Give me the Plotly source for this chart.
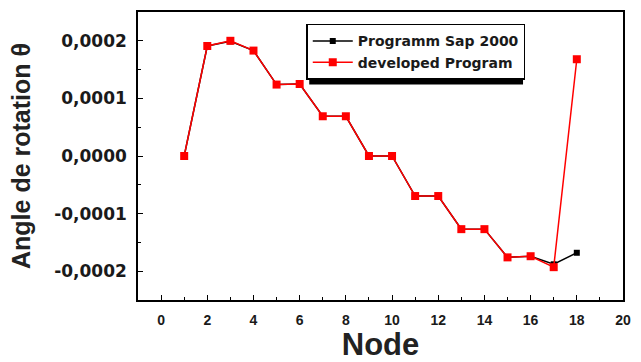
import plotly.graph_objects as go

nodes = list(range(1, 19))
sap2000 = [0.0, 0.000191, 0.000199, 0.000183, 0.000124, 0.000125, 0.000069, 0.000069,
           0.0, 0.0, -0.0000695, -0.0000695, -0.000127, -0.000127, -0.000176, -0.000174,
           -0.000188, -0.000168]
developed = [0.0, 0.000191, 0.0002, 0.000183, 0.000124, 0.000125, 0.000069, 0.000069,
             0.0, 0.0, -0.0000695, -0.0000695, -0.000127, -0.000127, -0.000176, -0.000174,
             -0.000193, 0.000168]

x_ticks = list(range(0, 21, 2))
y_ticks = [-0.0002, -0.0001, 0.0, 0.0001, 0.0002]
y_tick_text = ["-0,0002", "-0,0001", "0,0000", "0,0001", "0,0002"]

fig = go.Figure()
fig.add_trace(go.Scatter(x=nodes, y=sap2000, mode="lines+markers", name="Programm Sap 2000",
                         line=dict(color="black", width=1.5),
                         marker=dict(symbol="square", size=6, color="black")))
fig.add_trace(go.Scatter(x=nodes, y=developed, mode="lines+markers", name="developed Program",
                         line=dict(color="#ff0000", width=1.5),
                         marker=dict(symbol="square", size=8, color="#ff0000")))

# legend drop shadow
fig.add_shape(type="rect", xref="paper", yref="paper",
              x0=(311 - 138) / 490, x1=(527 - 138) / 490,
              y0=(300 - 83) / 290, y1=(300 - 25) / 290,
              fillcolor="black", line=dict(width=0), layer="above")

axis_common = dict(showline=True, linecolor="black", linewidth=1.5, mirror=True,
                   ticks="inside", ticklen=5, tickwidth=1.2, tickcolor="black",
                   showgrid=False, zeroline=False)

fig.update_layout(
    width=641, height=362,
    margin=dict(l=138, r=13, t=10, b=62),
    plot_bgcolor="white", paper_bgcolor="white",
    showlegend=True,
    legend=dict(x=(308 - 138) / 490, y=(300 - 22) / 290, xanchor="left", yanchor="top",
                bgcolor="white", bordercolor="black", borderwidth=1.5,
                font=dict(family="DejaVu Sans", size=14, color="#1a1a1a", weight="bold"),
                itemwidth=40, tracegroupgap=0,
                traceorder="normal"),
    xaxis=dict(range=[-1, 20], tickvals=x_ticks, ticktext=[str(v) for v in x_ticks],
               tickfont=dict(family="Liberation Sans", size=14, color="#1a1a1a", weight="bold"),
               minor=dict(ticks="inside", ticklen=3, tickcolor="black", dtick=1, tick0=0, showgrid=False),
               ticklabelstandoff=6,
               title=dict(text="Node", font=dict(family="Liberation Sans", size=31, color="#222", weight="bold"),
                          standoff=2),
               **axis_common),
    yaxis=dict(range=[-0.00025, 0.00025], tickvals=y_ticks, ticktext=y_tick_text,
               tickfont=dict(family="DejaVu Sans", size=17, color="#1a1a1a", weight="bold"),
               minor=dict(ticks="inside", ticklen=3, tickcolor="black", dtick=0.00005, tick0=0, showgrid=False),
               ticklabelstandoff=6,
               title=dict(text="Angle de rotation θ",
                          font=dict(family="Liberation Sans", size=25, color="#222", weight="bold"),
                          standoff=16),
               **axis_common),
)

fig.write_html("out.html")
